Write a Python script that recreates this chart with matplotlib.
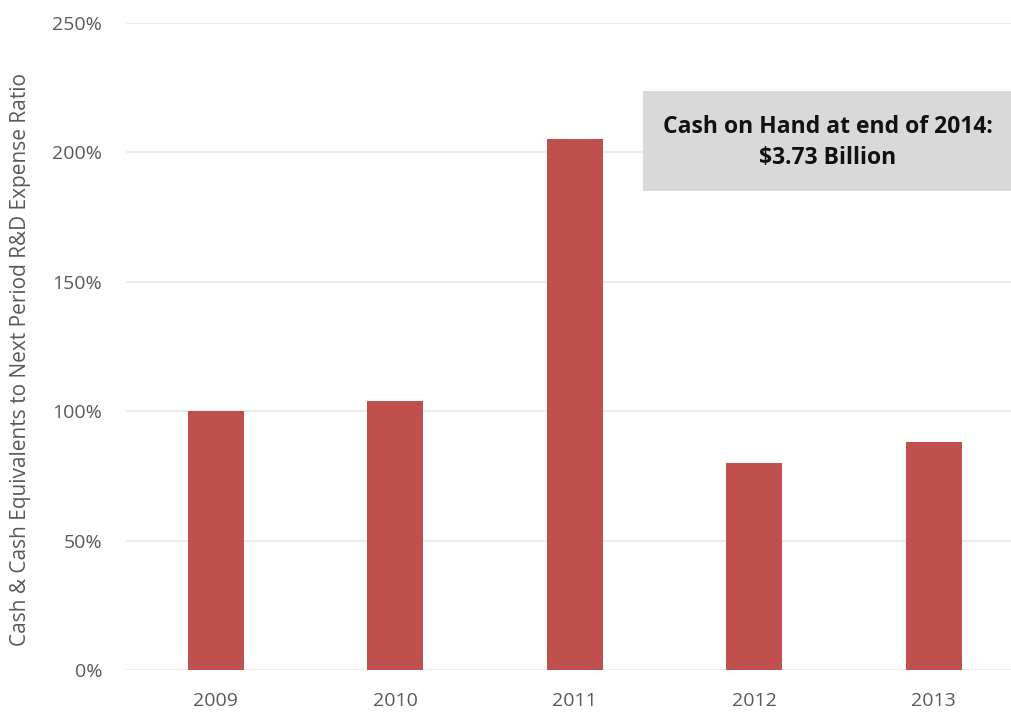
import matplotlib.pyplot as plt
from matplotlib.patches import Rectangle
from matplotlib.ticker import FuncFormatter

plt.rcParams['font.family'] = ['Open Sans', 'DejaVu Sans']

# cash & equivalents / next period R&D expense, in percent
years = ['2009', '2010', '2011', '2012', '2013']
ratio = [100, 104, 205, 80, 88]
yticks = [0, 50, 100, 150, 200, 250]

fig = plt.figure(figsize=(10.11, 7.13), dpi=100)
ax = fig.add_axes([0.1246, 0.0603, 0.8754, 0.9079])

x = list(range(len(years)))
ax.bar(x, ratio, width=0.31, color='#c0504d', zorder=3)

ax.set_xlim(-0.5, 4.43)
ax.set_ylim(0, 250)
ax.set_yticks(yticks)
ax.yaxis.set_major_formatter(FuncFormatter(lambda v, p: '%d%%' % v))
ax.set_xticks(x)
ax.set_xticklabels(years)

ax.grid(axis='y', color='#ebebeb', linewidth=1.3, zorder=0)
ax.tick_params(axis='both', length=0, labelsize=14, labelcolor='#595959')
ax.tick_params(axis='x', pad=16)
ax.tick_params(axis='y', pad=17)
for s in ax.spines.values():
    s.set_visible(False)

ax.set_ylabel('Cash & Cash Equivalents to Next Period R&D Expense Ratio',
              fontsize=15, color='#595959')
ax.yaxis.set_label_coords(-0.107, 0.479)

# gray callout box
ax.add_patch(Rectangle((0.584, 0.740), 0.416, 0.154, transform=ax.transAxes,
                       facecolor='#d9d9d9', edgecolor='none', clip_on=False, zorder=4))
ax.text(0.793, 0.815, 'Cash on Hand at end of 2014:\n$3.73 Billion', transform=ax.transAxes,
        ha='center', va='center', multialignment='center', fontsize=16.5,
        fontweight='bold', color='#111111', linespacing=1.4, zorder=5)

fig.savefig('out.png', dpi=100)
